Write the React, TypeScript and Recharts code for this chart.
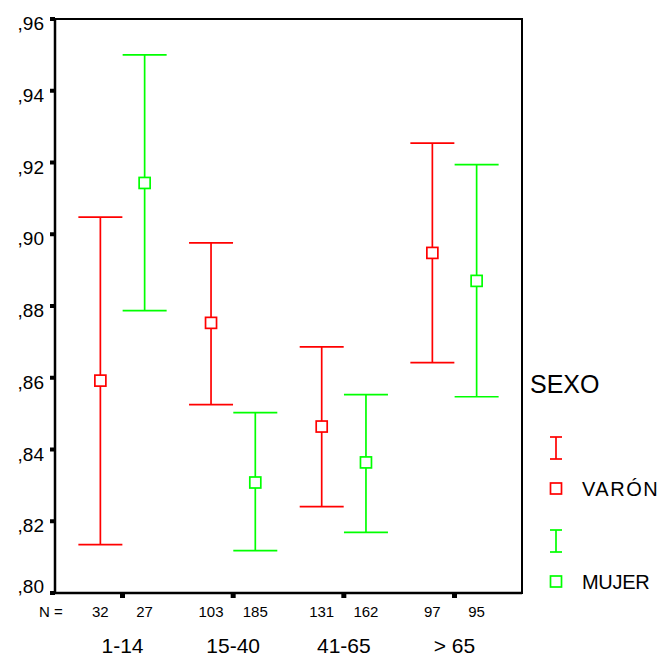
import React from 'react';
import { ScatterChart, Scatter, XAxis, YAxis, ErrorBar, ReferenceArea, Legend } from 'recharts';

const categories = ['1-14', '15-40', '41-65', '> 65'];
const yTicks = [0.8, 0.82, 0.84, 0.86, 0.88, 0.9, 0.92, 0.94, 0.96];
const varonMean = [0.8592, 0.8753, 0.8464, 0.8948];
const varonLow = [0.8135, 0.8525, 0.8241, 0.8642];
const varonHigh = [0.9048, 0.8976, 0.8686, 0.9254];
const mujerMean = [0.9143, 0.8308, 0.8364, 0.887];
const mujerLow = [0.8787, 0.8118, 0.8169, 0.8547];
const mujerHigh = [0.95, 0.8503, 0.8553, 0.9194];
const varonN = [32, 103, 131, 97];
const mujerN = [27, 185, 162, 95];
const seriesNames = ['VARÓN', 'MUJER'];
const seriesColors = ['#ff0000', '#00ff00'];

const OFFSET = 0.2;
const X_DOMAIN: [number, number] = [0.39, 4.61];
const FONT = '"Liberation Sans", Arial, sans-serif';

const build = (mean: number[], low: number[], high: number[], n: number[], shift: number) =>
  mean.map((m, i) => ({ x: i + 1 + shift, y: m, err: [m - low[i], high[i] - m], n: n[i] }));

const varonData = build(varonMean, varonLow, varonHigh, varonN, -OFFSET);
const mujerData = build(mujerMean, mujerLow, mujerHigh, mujerN, OFFSET);

const tickDefs = categories.flatMap((c, i) => [
  { v: i + 1 - OFFSET, label: String(varonN[i]), cat: '' },
  { v: i + 1, label: '', cat: c },
  { v: i + 1 + OFFSET, label: String(mujerN[i]), cat: '' },
]);
const xTicks = tickDefs.map((d) => d.v);

const square = (color: string) => (props: any) => {
  const { cx, cy } = props;
  if (cx == null || cy == null) return null;
  return <rect x={cx - 5.5} y={cy - 5.5} width={11} height={11} fill="#fff" stroke={color} strokeWidth={1.7} />;
};

const YTick = (props: any) => {
  const { x, y, payload, index } = props;
  const label = Number(payload.value).toFixed(2).replace('0.', ',');
  const dy = index === 0 ? 0 : 11;
  return (
    <text x={x - 6} y={y + dy} textAnchor="end" fontSize={19} fontFamily={FONT} fill="#000">
      {label}
    </text>
  );
};

const XTick = (props: any) => {
  const { x, y, payload } = props;
  const def = tickDefs.find((d) => Math.abs(d.v - payload.value) < 1e-6);
  if (!def) return null;
  if (def.cat) {
    return (
      <g>
        <rect x={x - 2.5} y={y} width={5} height={5} fill="#000" />
        <text x={x} y={y + 60} textAnchor="middle" fontSize={21} fontFamily={FONT} fill="#000">
          {def.cat}
        </text>
      </g>
    );
  }
  return (
    <text x={x} y={y + 24} textAnchor="middle" fontSize={15} fontFamily={FONT} fill="#000">
      {def.label}
    </text>
  );
};

const NLabel = (props: any) => {
  const vb = props.viewBox || {};
  return (
    <text x={vb.x - 16} y={vb.y + 24} textAnchor="start" fontSize={15} fontFamily={FONT} fill="#000">
      N =
    </text>
  );
};

const renderLegend = (props: any) => {
  const payload = props.payload || [];
  const items = seriesNames
    .map((name) => payload.find((p: any) => p.value === name))
    .filter(Boolean);
  return (
    <svg width={150} height={260} style={{ display: 'block' }}>
      <text x={20} y={33} fontSize={25} fontFamily={FONT} fill="#000">SEXO</text>
      {items.map((it: any, i: number) => {
        const base = 77 + i * 93;
        const c = it.color;
        return (
          <g key={i}>
            <line x1={46} x2={46} y1={base} y2={base + 22} stroke={c} strokeWidth={1.7} />
            <line x1={40} x2={52} y1={base} y2={base} stroke={c} strokeWidth={1.7} />
            <line x1={40} x2={52} y1={base + 22} y2={base + 22} stroke={c} strokeWidth={1.7} />
            <rect x={40.5} y={base + 46} width={11} height={11} fill="#fff" stroke={c} strokeWidth={1.7} />
            <text x={72} y={base + 59} fontSize={20} fontFamily={FONT} fill="#000"
              style={{ letterSpacing: i === 0 ? '1.5px' : '-0.3px' }}>
              {it.value}
            </text>
          </g>
        );
      })}
    </svg>
  );
};

export default function App() {
  return (
    <div>
      <style>{'body{margin:0}'}</style>
      <ScatterChart width={660} height={657} margin={{ top: 19, right: 138, bottom: 0, left: 0 }}>
        <XAxis
          type="number"
          dataKey="x"
          domain={X_DOMAIN}
          ticks={xTicks}
          interval={0}
          tick={<XTick />}
          tickLine={false}
          tickSize={0}
          tickMargin={0}
          axisLine={{ stroke: '#000', strokeWidth: 2.5 }}
          height={64}
          allowDataOverflow
          label={<NLabel />}
        />
        <YAxis
          type="number"
          dataKey="y"
          domain={[0.8, 0.96]}
          ticks={yTicks}
          interval={0}
          width={55}
          tick={<YTick />}
          tickSize={5}
          tickMargin={0}
          tickLine={{ stroke: '#000', strokeWidth: 4 }}
          axisLine={{ stroke: '#000', strokeWidth: 2.5 }}
          allowDataOverflow
        />
        <ReferenceArea
          x1={X_DOMAIN[0]}
          x2={X_DOMAIN[1]}
          y1={0.8}
          y2={0.96}
          fill="none"
          fillOpacity={0}
          stroke="#000"
          strokeWidth={2}
          strokeOpacity={1}
        />
        <Legend
          layout="vertical"
          align="center"
          verticalAlign="middle"
          content={renderLegend}
          wrapperStyle={{ left: 510, top: 360, width: 150, height: 260 }}
        />
        <Scatter
          name={seriesNames[0]}
          data={varonData}
          fill={seriesColors[0]}
          shape={square(seriesColors[0])}
          isAnimationActive={false}
        >
          <ErrorBar dataKey="err" direction="y" width={22} stroke={seriesColors[0]} strokeWidth={1.7} isAnimationActive={false} />
        </Scatter>
        <Scatter
          name={seriesNames[1]}
          data={mujerData}
          fill={seriesColors[1]}
          shape={square(seriesColors[1])}
          isAnimationActive={false}
        >
          <ErrorBar dataKey="err" direction="y" width={22} stroke={seriesColors[1]} strokeWidth={1.7} isAnimationActive={false} />
        </Scatter>
      </ScatterChart>
    </div>
  );
}
